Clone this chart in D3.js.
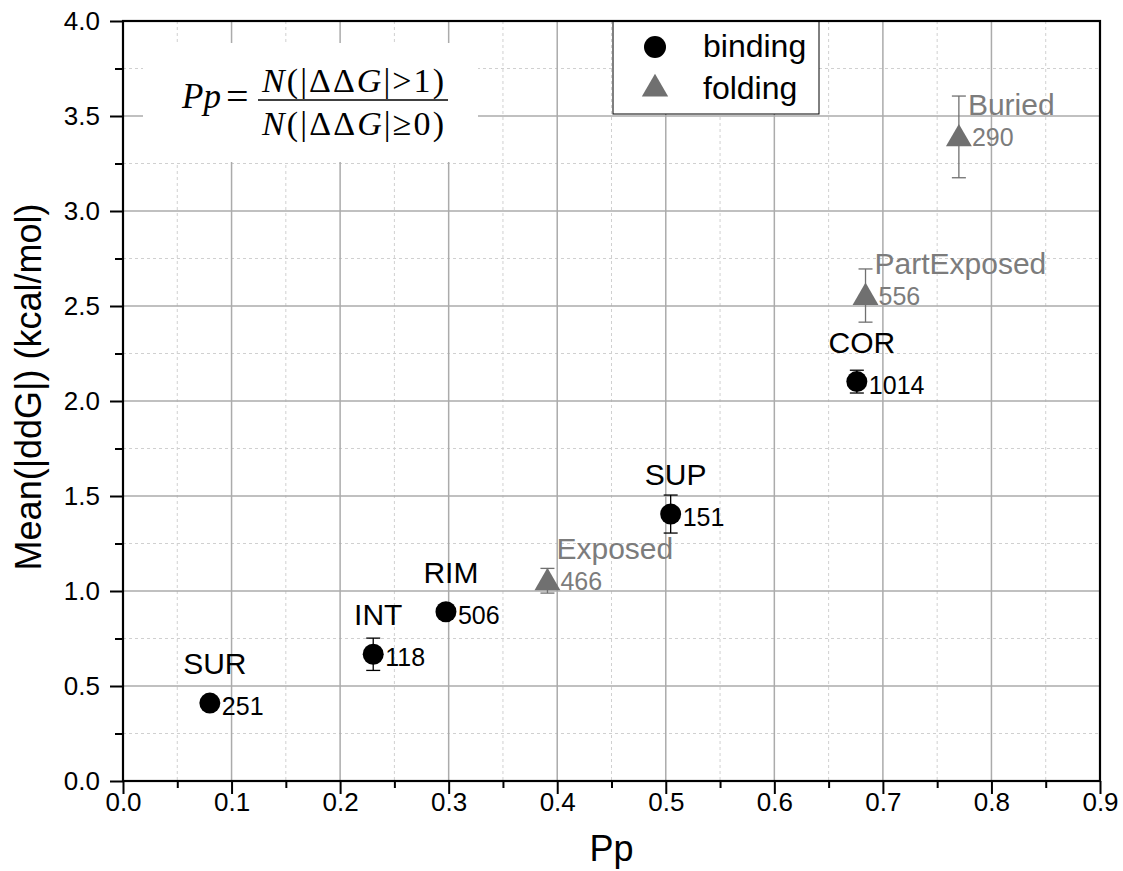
<!DOCTYPE html>
<html>
<head>
<meta charset="utf-8">
<script src="https://cdn.jsdelivr.net/npm/d3@7"></script>
<style>
  html, body { margin: 0; padding: 0; background: #fff; }
  svg { display: block; font-family: "Liberation Sans", Arial, sans-serif; }
</style>
</head>
<body>
<svg id="chart" width="1123" height="871"></svg>
<script>
// ---- data ----
const bindingNames = ["SUR", "INT", "RIM", "SUP", "COR"];
const bindingPp    = [0.080, 0.2305, 0.2975, 0.5045, 0.676];
const bindingMean  = [0.41, 0.667, 0.891, 1.405, 2.102];
const bindingErr   = [0.03, 0.085, 0.03, 0.10, 0.06];
const bindingCount = [251, 118, 506, 151, 1014];

const foldingNames = ["Exposed", "PartExposed", "Buried"];
const foldingPp    = [0.391, 0.684, 0.770];
const foldingMean  = [1.054, 2.555, 3.39];
const foldingErr   = [0.065, 0.14, 0.215];
const foldingCount = [466, 556, 290];

const xTicks = [0, 0.1, 0.2, 0.3, 0.4, 0.5, 0.6, 0.7, 0.8, 0.9];
const yTicks = [0, 0.5, 1.0, 1.5, 2.0, 2.5, 3.0, 3.5, 4.0];
const xMinor = [0.05, 0.15, 0.25, 0.35, 0.45, 0.55, 0.65, 0.75, 0.85];
const yMinor = [0.25, 0.75, 1.25, 1.75, 2.25, 2.75, 3.25, 3.75];
const legendLabels = ["binding", "folding"];
const xTitle = "Pp";
const yTitle = "Mean(|ddG|) (kcal/mol)";

// ---- layout ----
const svg = d3.select("#chart");
const L = 123, R = 1100, T = 21, B = 781;
const x = d3.scaleLinear().domain([0, 0.9]).range([L, R]);
const y = d3.scaleLinear().domain([0, 4.0]).range([B, T]);
const grayFold = "#707070";
const grayText = "#7c7c7c";
const serif = '"Liberation Serif", "Times New Roman", serif';

// minor grid
const g = svg.append("g");
g.selectAll(".vmin").data(xMinor).join("line")
  .attr("x1", d => x(d)).attr("x2", d => x(d)).attr("y1", T).attr("y2", B)
  .attr("stroke", "#d0d0d0").attr("stroke-width", 1).attr("stroke-dasharray", "3,3");
g.selectAll(".hmin").data(yMinor).join("line")
  .attr("y1", d => y(d)).attr("y2", d => y(d)).attr("x1", L).attr("x2", R)
  .attr("stroke", "#d0d0d0").attr("stroke-width", 1).attr("stroke-dasharray", "3,3");
// major grid
g.selectAll(".vmaj").data(xTicks.slice(1, -1)).join("line")
  .attr("x1", d => x(d)).attr("x2", d => x(d)).attr("y1", T).attr("y2", B)
  .attr("stroke", "#ababab").attr("stroke-width", 1.5);
g.selectAll(".hmaj").data(yTicks.slice(1, -1)).join("line")
  .attr("y1", d => y(d)).attr("y2", d => y(d)).attr("x1", L).attr("x2", R)
  .attr("stroke", "#ababab").attr("stroke-width", 1.5);

// formula box
const fg = svg.append("g").style("font-family", serif);
fg.append("rect").attr("x", 143).attr("y", 43).attr("width", 335).attr("height", 119).attr("fill", "#fff");
fg.append("text").attr("x", 182).attr("y", 108)
  .attr("font-size", 35).attr("font-style", "italic").text("Pp");
fg.append("text").attr("x", 226).attr("y", 110)
  .attr("font-size", 40).text("=");
fg.append("line").attr("x1", 258).attr("x2", 448).attr("y1", 100).attr("y2", 100)
  .attr("stroke", "#000").attr("stroke-width", 1.5);
function fracText(yb, rel, num) {
  const t = fg.append("text").attr("x", 262).attr("y", yb)
    .attr("font-size", 34).attr("textLength", 182).attr("lengthAdjust", "spacing");
  t.append("tspan").attr("font-style", "italic").text("N");
  t.append("tspan").text("(|\u0394\u0394");
  t.append("tspan").attr("font-style", "italic").text("G");
  t.append("tspan").text("|" + rel + num + ")");
}
fracText(92, ">", "1");
fracText(135, "\u2265", "0");

// legend
const lg = svg.append("g");
lg.append("rect").attr("x", 613).attr("y", T).attr("width", 206).attr("height", 93)
  .attr("fill", "#fff").attr("stroke", "#000").attr("stroke-width", 1);
lg.append("circle").attr("cx", 655).attr("cy", 47).attr("r", 11).attr("fill", "#000");
const triL = d3.symbol().type(d3.symbolTriangle).size(300);
lg.append("path").attr("d", triL()).attr("transform", "translate(655,89)").attr("fill", grayFold);
lg.selectAll(".lt").data(legendLabels).join("text")
  .attr("x", 703).attr("y", (d, i) => 57 + i * 42)
  .attr("font-size", 32).attr("fill", "#000").text(d => d);

// error bars
function errBars(px, py, pe, color) {
  const eg = svg.append("g").attr("stroke", color).attr("stroke-width", 1.3);
  px.forEach((v, i) => {
    const cx = x(v), y1 = y(py[i] + pe[i]), y2 = y(py[i] - pe[i]);
    eg.append("line").attr("x1", cx).attr("x2", cx).attr("y1", y1).attr("y2", y2);
    eg.append("line").attr("x1", cx - 7).attr("x2", cx + 7).attr("y1", y1).attr("y2", y1);
    eg.append("line").attr("x1", cx - 7).attr("x2", cx + 7).attr("y1", y2).attr("y2", y2);
  });
}
errBars(bindingPp, bindingMean, bindingErr, "#000");
errBars(foldingPp, foldingMean, foldingErr, grayFold);

// points
svg.append("g").selectAll("circle").data(bindingPp).join("circle")
  .attr("cx", d => x(d)).attr("cy", (d, i) => y(bindingMean[i])).attr("r", 10.5).attr("fill", "#000");
const tri = d3.symbol().type(d3.symbolTriangle).size(290);
svg.append("g").selectAll("path").data(foldingPp).join("path")
  .attr("d", tri()).attr("transform", (d, i) => `translate(${x(d)},${y(foldingMean[i]) + 2})`)
  .attr("fill", grayFold);

// labels
const lb = svg.append("g");
bindingPp.forEach((v, i) => {
  const cx = x(v), cy = y(bindingMean[i]);
  lb.append("text").attr("x", cx + 5).attr("y", cy - 29).attr("text-anchor", "middle")
    .attr("font-size", 30).attr("fill", "#000").text(bindingNames[i]);
  lb.append("text").attr("x", cx + 12).attr("y", cy + 12)
    .attr("font-size", 25).attr("fill", "#000").text(bindingCount[i]);
});
foldingPp.forEach((v, i) => {
  const cx = x(v), cy = y(foldingMean[i]);
  lb.append("text").attr("x", cx + 9).attr("y", cy - 22)
    .attr("font-size", 30).attr("fill", grayText).text(foldingNames[i]);
  lb.append("text").attr("x", cx + 13).attr("y", cy + 9)
    .attr("font-size", 25).attr("fill", grayText).text(foldingCount[i]);
});

// axes
const xMinorAxis = svg.append("g").attr("transform", `translate(0,${B})`)
  .call(d3.axisBottom(x).tickValues(xMinor).tickSize(7).tickFormat(""));
const xAxis = svg.append("g").attr("transform", `translate(0,${B})`)
  .call(d3.axisBottom(x).tickValues(xTicks).tickSize(13).tickPadding(-1).tickFormat(d3.format(".1f")));
const yMinorAxis = svg.append("g").attr("transform", `translate(${L},0)`)
  .call(d3.axisLeft(y).tickValues(yMinor).tickSize(8).tickFormat(""));
const yAxis = svg.append("g").attr("transform", `translate(${L},0)`)
  .call(d3.axisLeft(y).tickValues(yTicks).tickSize(13).tickPadding(10).tickFormat(d3.format(".1f")));
[xMinorAxis, xAxis, yMinorAxis, yAxis].forEach(a => {
  a.attr("font-family", null).attr("font-size", null);
  a.select(".domain").remove();
  a.selectAll(".tick line").attr("stroke", "#000").attr("stroke-width", 2);
  a.selectAll(".tick text").attr("font-size", 26).attr("fill", "#000");
});

// frame
svg.append("rect").attr("x", L).attr("y", T).attr("width", R - L).attr("height", B - T)
  .attr("fill", "none").attr("stroke", "#000").attr("stroke-width", 2.2);

// titles
svg.append("text").attr("x", (L + R) / 2).attr("y", 861).attr("text-anchor", "middle")
  .attr("font-size", 36).attr("fill", "#000").text(xTitle);
svg.append("text").attr("transform", "translate(41,387) rotate(-90)").attr("text-anchor", "middle")
  .attr("font-size", 36).attr("fill", "#000").text(yTitle);
</script>
</body>
</html>
